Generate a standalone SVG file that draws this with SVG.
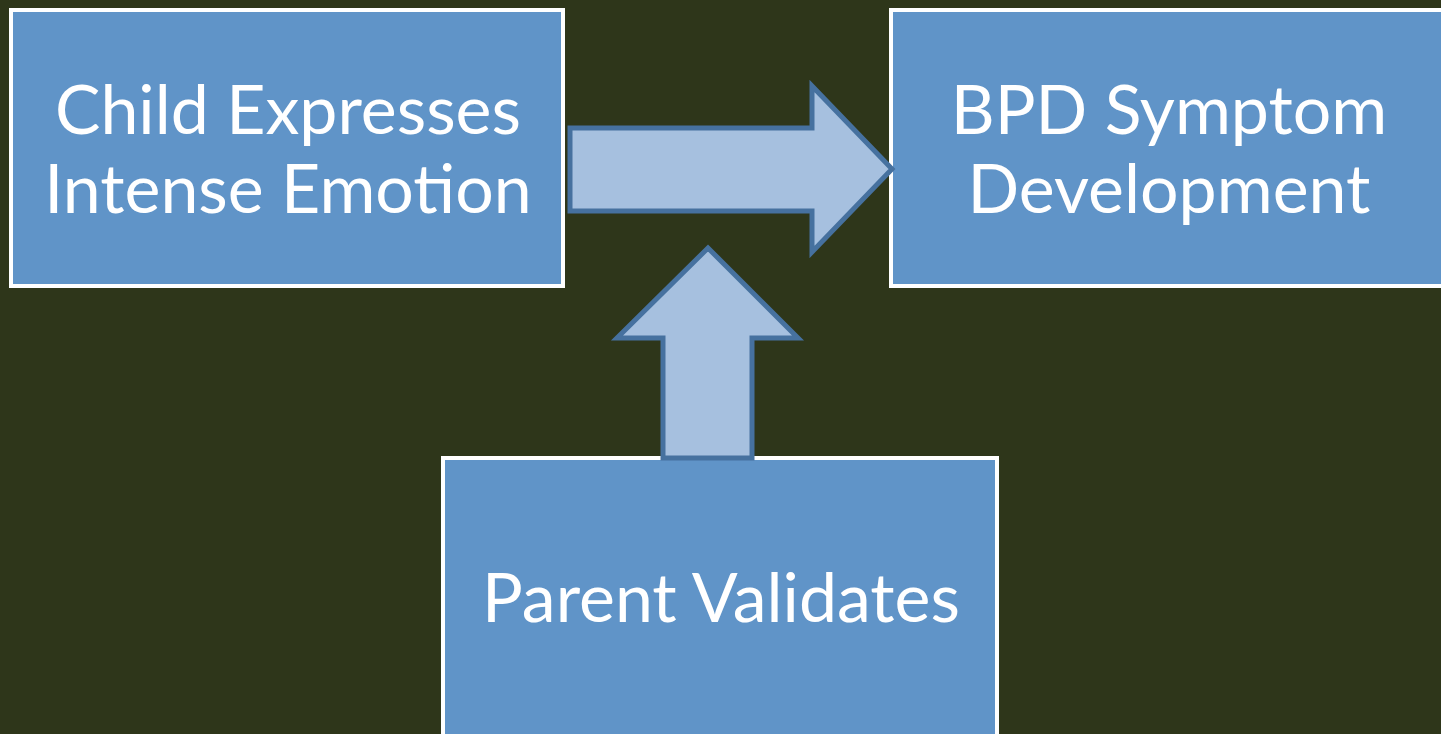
<svg xmlns="http://www.w3.org/2000/svg" width="1441" height="734" viewBox="0 0 1441 734">
<style>
.box{fill:#6094C8;stroke:#FFFFFF;stroke-width:4}
.lbl{font-family:Lato,"Liberation Sans",sans-serif;font-size:68px;fill:#FFFFFF;text-anchor:middle}
.arr{fill:#A6C0DF;stroke:#46719F;stroke-width:5;stroke-linejoin:miter}
</style>
<rect x="0" y="0" width="1441" height="734" fill="#2E361A"/>
<g id="node-child">
<rect class="box" x="11" y="10" width="552" height="276"/>
<text class="lbl" x="288" y="134">Child Expresses</text>
<text class="lbl" x="288" y="213">Intense Emotion</text>
</g>
<g id="node-bpd">
<rect class="box" x="891" y="10" width="556" height="276"/>
<text class="lbl" x="1169" y="134">BPD Symptom</text>
<text class="lbl" x="1169" y="213">Development</text>
</g>
<g id="node-parent">
<rect class="box" x="443" y="458" width="554" height="290"/>
<text class="lbl" x="721" y="622">Parent Validates</text>
</g>
<g id="connectors">
<polygon class="arr" points="570,128 812,128 812,86 892,169 812,252 812,211 570,211"/>
<polygon class="arr" points="663,458 663,338 617,338 708,248 798,338 752,338 752,458"/>
</g>
</svg>
